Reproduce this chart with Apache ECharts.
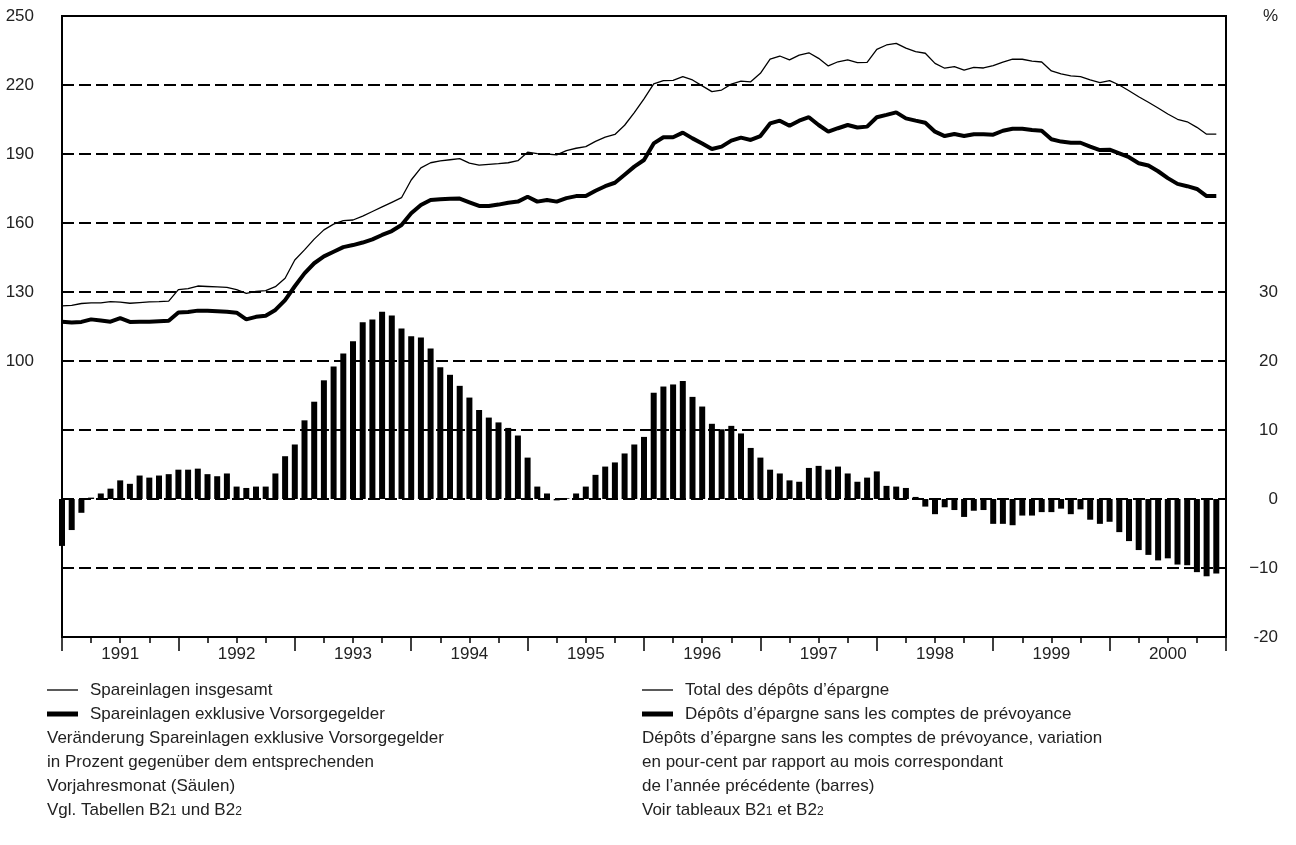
<!DOCTYPE html>
<html>
<head>
<meta charset="utf-8">
<title>Spareinlagen</title>
<script src="https://cdn.jsdelivr.net/npm/echarts/dist/echarts.min.js"></script>
<style>
  html, body { margin: 0; padding: 0; background: #fff; }
  #chart { width: 1296px; height: 845px; }
</style>
</head>
<body>
<div id="chart"></div>
<script>
// Jahre auf der x-Achse, Monatswerte Jan 1991 - Dez 2000
const years = ['1991', '1992', '1993', '1994', '1995', '1996', '1997', '1998', '1999', '2000']

// Spareinlagen insgesamt (linke Achse)
const totalDeposits = [
  124.0, 124.2, 125.0, 125.3, 125.3, 125.8, 125.6, 125.1, 125.4, 125.7, 125.8, 126.0,
  131.0, 131.5, 132.6, 132.4, 132.2, 132.0, 131.0, 129.4, 130.3, 130.6, 132.3, 136.0,
  143.9, 148.3, 153.0, 157.0, 159.5, 161.0, 161.3, 163.0, 165.0, 167.0, 169.0, 171.0,
  178.7, 184.0, 186.2, 187.0, 187.5, 188.0, 186.0, 185.2, 185.5, 185.8, 186.2, 187.1,
  190.8, 190.2, 190.0, 189.6, 191.5, 192.5, 193.2, 195.5, 197.3, 198.5, 202.5, 208.0,
  214.0, 220.5, 221.9, 222.0, 223.6, 222.2, 219.6, 217.1, 217.8, 220.4, 221.7, 221.4,
  225.1, 231.2, 232.6, 230.9, 233.0, 234.0, 231.6, 228.3, 230.1, 230.9, 229.7, 229.8,
  235.5, 237.4, 238.1, 236.0, 234.5, 233.8, 229.4, 227.3, 228.0, 226.5, 227.7, 227.4,
  228.4, 229.9, 231.2, 231.2, 230.4, 230.0, 226.1, 224.8, 224.0, 223.6, 222.2, 221.0,
  221.9, 220.0, 217.5, 214.9, 212.5, 210.0, 207.4, 205.1, 204.0, 201.6, 198.6, 198.6
]

// Spareinlagen exklusive Vorsorgegelder (linke Achse)
const depositsExclPension = [
  117.1, 116.7, 117.0, 118.1, 117.6, 117.1, 118.6, 117.0, 117.1, 117.1, 117.3, 117.5,
  121.1, 121.3, 121.9, 121.8, 121.6, 121.4, 121.0, 118.1, 119.2, 119.7, 122.2, 126.5,
  132.5, 138.1, 142.5, 145.5, 147.5, 149.5, 150.4, 151.5, 152.9, 154.8, 156.5, 159.1,
  164.2, 167.8, 170.0, 170.3, 170.5, 170.6, 169.0, 167.4, 167.4, 168.0, 168.8, 169.3,
  171.4, 169.3, 170.0, 169.3, 170.8, 171.7, 171.7, 174.0, 176.0, 177.5, 181.0, 184.5,
  187.4, 194.6, 197.3, 197.3, 199.3, 196.8, 194.6, 192.2, 193.2, 195.8, 197.1, 196.1,
  197.8, 203.3, 204.5, 202.3, 204.5, 206.0, 202.6, 199.7, 201.2, 202.6, 201.5, 201.9,
  206.0, 207.0, 208.1, 205.5, 204.5, 203.6, 199.7, 197.8, 198.7, 197.8, 198.6, 198.6,
  198.4, 200.1, 201.0, 201.0, 200.4, 200.1, 196.4, 195.4, 194.9, 194.9, 193.2, 191.7,
  191.9, 190.3, 188.6, 186.0, 185.0, 182.5, 179.5, 177.0, 176.0, 174.8, 171.7, 171.7
]

// Veränderung gegenüber Vorjahresmonat in % (rechte Achse, Säulen)
const changePct = [
  -6.8, -4.5, -2.0, 0.2, 0.8, 1.5, 2.7, 2.2, 3.4, 3.1, 3.4, 3.6,
  4.25, 4.25, 4.4, 3.6, 3.3, 3.7, 1.8, 1.6, 1.8, 1.8, 3.7, 6.2,
  7.9, 11.4, 14.1, 17.2, 19.2, 21.1, 22.85, 25.6, 26.0, 27.15, 26.6, 24.7,
  23.6, 23.4, 21.8, 19.1, 18.0, 16.4, 14.7, 12.9, 11.8, 11.1, 10.3, 9.2,
  6.0, 1.8, 0.8, -0.2, 0.1, 0.8, 1.8, 3.5, 4.7, 5.3, 6.6, 7.9,
  9.0, 15.4, 16.3, 16.6, 17.1, 14.8, 13.4, 10.9, 10.1, 10.6, 9.5, 7.4,
  6.0, 4.25, 3.7, 2.7, 2.5, 4.5, 4.8, 4.25, 4.7, 3.7, 2.5, 3.1,
  4.0, 1.9, 1.8, 1.6, 0.3, -1.1, -2.2, -1.2, -1.6, -2.6, -1.7, -1.6,
  -3.6, -3.6, -3.8, -2.4, -2.4, -1.9, -1.9, -1.4, -2.2, -1.5, -3.0, -3.6,
  -3.3, -4.8, -6.1, -7.4, -8.1, -8.9, -8.6, -9.5, -9.6, -10.6, -11.2, -10.8
]

// sichtbare Achsenbeschriftungen
const leftTickLabels = [100, 130, 160, 190, 220, 250]
const rightTickLabels = { 30: '30', 20: '20', 10: '10', 0: '0', '-10': '\u221210', '-20': '-20', 70: '%' }

const FONT = 'Liberation Sans, Arial, sans-serif'
const TXT = '#222'

const chart = echarts.init(document.getElementById('chart'))

const toPoints = arr => arr.map((v, i) => [i, v])

// Legende / Fussnote unter der Grafik
const rowY = [690, 714, 738, 762, 786, 810]
const legendLeft = [
  'Spareinlagen insgesamt',
  'Spareinlagen exklusive Vorsorgegelder',
  'Veränderung Spareinlagen exklusive Vorsorgegelder',
  'in Prozent gegenüber dem entsprechenden',
  'Vorjahresmonat (Säulen)',
  '{a|Vgl. Tabellen B2}{s|1}{a| und B2}{s|2}'
]
const legendRight = [
  'Total des dépôts d\u2019épargne',
  'Dépôts d\u2019épargne sans les comptes de prévoyance',
  'Dépôts d\u2019épargne sans les comptes de prévoyance, variation',
  'en pour-cent par rapport au mois correspondant',
  'de l\u2019année précédente (barres)',
  '{a|Voir tableaux B2}{s|1}{a| et B2}{s|2}'
]

function legendBlock (x0, texts) {
  const els = []
  // Linienmuster
  els.push({ type: 'line', shape: { x1: x0, y1: rowY[0], x2: x0 + 31, y2: rowY[0] }, style: { stroke: '#000', lineWidth: 1.3 } })
  els.push({ type: 'line', shape: { x1: x0, y1: rowY[1], x2: x0 + 31, y2: rowY[1] }, style: { stroke: '#000', lineWidth: 5 } })
  texts.forEach((t, k) => {
    els.push({
      type: 'text',
      x: k < 2 ? x0 + 43 : x0,
      y: rowY[k],
      style: {
        text: t,
        fill: TXT,
        fontSize: 17,
        fontFamily: FONT,
        verticalAlign: 'middle',
        rich: {
          a: { fontSize: 17, fontFamily: FONT, fill: TXT, verticalAlign: 'bottom' },
          s: { fontSize: 12, fontFamily: FONT, fill: TXT, verticalAlign: 'bottom', padding: [0, 0, 1, 0] }
        }
      }
    })
  })
  return els
}

const option = {
  backgroundColor: '#fff',
  animation: false,
  grid: {
    left: 62,
    right: 70,
    top: 16,
    bottom: 208,
    show: true,
    borderColor: '#000',
    borderWidth: 2,
    backgroundColor: 'transparent'
  },
  xAxis: [
    {
      type: 'value',
      min: 0,
      max: 120,
      interval: 3,
      position: 'bottom',
      axisLine: { show: true, onZero: false, lineStyle: { color: '#000', width: 2 } },
      axisTick: { show: true, length: 6, lineStyle: { color: '#000', width: 1.5 } },
      axisLabel: {
        margin: 9,
        fontSize: 17,
        fontFamily: FONT,
        color: TXT,
        formatter: v => (v % 12 === 6 ? years[(v - 6) / 12] : '')
      },
      splitLine: { show: false }
    },
    {
      // lange Striche an den Jahresgrenzen
      type: 'value',
      min: 0,
      max: 120,
      interval: 12,
      position: 'bottom',
      axisLine: { show: false, onZero: false },
      axisTick: { show: true, length: 14, lineStyle: { color: '#000', width: 1.5 } },
      axisLabel: { show: false },
      splitLine: { show: false }
    }
  ],
  yAxis: [
    {
      type: 'value',
      min: -20,
      max: 250,
      interval: 30,
      position: 'left',
      axisLine: { show: false },
      axisTick: { show: false },
      axisLabel: {
        margin: 28,
        fontSize: 17,
        fontFamily: FONT,
        color: TXT,
        formatter: v => (leftTickLabels.indexOf(v) >= 0 ? String(v) : '')
      },
      splitLine: { show: true, lineStyle: { color: '#000', width: 2, type: [12, 5] } }
    },
    {
      type: 'value',
      min: -20,
      max: 70,
      interval: 10,
      position: 'right',
      axisLine: { show: false },
      axisTick: { show: false },
      axisLabel: {
        margin: 52,
        align: 'right',
        fontSize: 17,
        fontFamily: FONT,
        color: TXT,
        formatter: v => rightTickLabels[v] || ''
      },
      splitLine: { show: false }
    }
  ],
  series: [
    {
      name: 'Veränderung Spareinlagen exklusive Vorsorgegelder',
      type: 'bar',
      xAxisIndex: 0,
      yAxisIndex: 1,
      barWidth: 6,
      clip: true,
      itemStyle: { color: '#000' },
      data: toPoints(changePct)
    },
    {
      name: 'Spareinlagen insgesamt',
      type: 'line',
      xAxisIndex: 0,
      yAxisIndex: 0,
      symbol: 'none',
      lineStyle: { color: '#000', width: 1.3 },
      data: toPoints(totalDeposits)
    },
    {
      name: 'Spareinlagen exklusive Vorsorgegelder',
      type: 'line',
      xAxisIndex: 0,
      yAxisIndex: 0,
      symbol: 'none',
      lineStyle: { color: '#000', width: 4 },
      data: toPoints(depositsExclPension)
    }
  ],
  graphic: legendBlock(47, legendLeft).concat(legendBlock(642, legendRight))
}

chart.setOption(option)
window.addEventListener('resize', () => {
  chart.resize()
})
</script>
</body>
</html>
